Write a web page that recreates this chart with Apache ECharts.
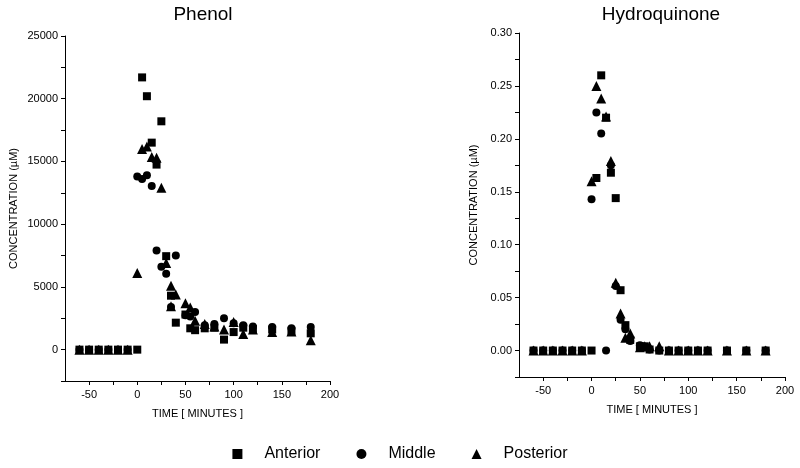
<!DOCTYPE html>
<html><head><meta charset="utf-8">
<script src="https://cdn.jsdelivr.net/npm/echarts@6/dist/echarts.min.js"></script>
<style>html,body{margin:0;padding:0;background:#fff}#c{width:800px;height:468px}</style>
</head><body><div id="c"></div>
<script>
// ---- Phenol (concentration, µM) ----
var phenolTime = [-60,-50,-40,-30,-20,-10,0,5,10,15,20,25,30,35,40,50,55,60,70,80,90,100,110,120,140,160,180];
var phenolAnterior = [0,0,0,0,0,0,0,21700,20200,16500,14750,18200,7450,4300,2150,2800,1700,1550,1700,1750,800,1400,1750,1650,1600,1500,1300];
var phenolMiddle = [0,0,0,0,0,0,13800,13600,13900,13050,7900,6600,6050,3400,7500,2750,2650,3000,1950,2050,2500,2100,1950,1850,1800,1700,1800];
var phenolPosterior = [0,0,0,0,0,0,6100,16000,16200,15350,15300,12900,6900,5100,4400,3700,3350,2300,2050,1850,1600,2200,1250,1600,1400,1450,750];
var phenolPosteriorExtra = [[35,3450]];

// ---- Hydroquinone (concentration, µM) ----
var hqTime = [-60,-50,-40,-30,-20,-10,0,5,10,15,20,25,30,35,40,50,55,60,70,80,90,100,110,120,140,160,180];
var hqAnterior = [0,0,0,0,0,0,0,0.163,0.26,0.22,0.168,0.144,0.057,0.024,0.010,0.004,0.004,0.001,0,0,0,0,0,0,0,0,0];
var hqMiddle = [0,0,0,0,0,0,0.143,0.225,0.205,0,0.175,0.061,0.029,0.020,0.009,0.005,0.003,0.001,0,0,0,0,0,0,0,0,0];
var hqPosterior = [0,0,0,0,0,0,0.16,0.25,0.238,0.221,0.179,0.064,0.035,0.012,0.016,0.003,0.004,0.004,0.004,0,0,0,0,0,0,0,0];

var seriesNames = ['Anterior','Middle','Posterior'];
var titles = ['Phenol','Hydroquinone'];
var xName = 'TIME [ MINUTES ]';
var yName = 'CONCENTRATION (\u00b5M)';

function pairs(t, v){ var out=[]; for(var i=0;i<t.length;i++){ if(v[i]!=null) out.push([t[i],v[i]]); } return out; }

var FONT = 'Liberation Sans, Arial, sans-serif';
var symbols = {Anterior:['rect',8], Middle:['circle',8], Posterior:['triangle',10]};

function xAxis(idx){
  return {type:'value', gridIndex:idx, min:-75, max:200, interval:25,
    name:xName, nameLocation:'middle', nameGap:27,
    nameTextStyle:{fontFamily:FONT, fontSize:11, color:'#000'},
    axisLine:{show:true, onZero:false, lineStyle:{color:'#000', width:1}},
    axisTick:{show:true, length:4, lineStyle:{color:'#000'}},
    axisLabel:{fontFamily:FONT, fontSize:11, color:'#000', margin:8, showMinLabel:false,
      formatter:function(v){ return (Math.round(v)%50===0)? String(Math.round(v)) : ''; }},
    splitLine:{show:false}};
}
function yAxisPhenol(){
  return {type:'value', gridIndex:0, min:-2500, max:25000, interval:2500,
    name:yName, nameLocation:'middle', nameGap:46,
    nameTextStyle:{fontFamily:FONT, fontSize:11, color:'#000'},
    axisLine:{show:true, onZero:false, lineStyle:{color:'#000'}},
    axisTick:{show:true, length:4, lineStyle:{color:'#000'}},
    axisLabel:{fontFamily:FONT, fontSize:11, color:'#000', margin:7,
      formatter:function(v){ return (Math.round(v)%5000===0)? String(Math.round(v)) : ''; }},
    splitLine:{show:false}};
}
function yAxisHq(){
  return {type:'value', gridIndex:1, min:-0.025, max:0.30, interval:0.025,
    name:yName, nameLocation:'middle', nameGap:40,
    nameTextStyle:{fontFamily:FONT, fontSize:11, color:'#000'},
    axisLine:{show:true, onZero:false, lineStyle:{color:'#000'}},
    axisTick:{show:true, length:4, lineStyle:{color:'#000'}},
    axisLabel:{fontFamily:FONT, fontSize:11, color:'#000', margin:7,
      formatter:function(v){ var k=Math.round(v/0.025); return (k%2===0 && k>=0)? (k*0.025).toFixed(2) : ''; }},
    splitLine:{show:false}};
}

function sc(name, idx, data){
  return {type:'scatter', name:name, xAxisIndex:idx, yAxisIndex:idx, data:data,
    symbol:symbols[name][0], symbolSize:symbols[name][1],
    itemStyle:{color:'#000', opacity:1}, emphasis:{disabled:true}, animation:false};
}

var chart = echarts.init(document.getElementById('c'), null, {renderer:'canvas'});
chart.setOption({
  backgroundColor:'#fff',
  animation:false,
  title:[
    {text:titles[0], left:198, top:0, textAlign:'center', textStyle:{fontFamily:FONT, fontSize:19, fontWeight:'normal', color:'#000'}},
    {text:titles[1], left:656, top:0, textAlign:'center', textStyle:{fontFamily:FONT, fontSize:19, fontWeight:'normal', color:'#000'}}
  ],
  legend:{bottom:1, left:'center', itemGap:36, itemWidth:10, itemHeight:10,
    data:seriesNames,
    textStyle:{fontFamily:FONT, fontSize:16, color:'#000', padding:[0,0,0,17]}},
  grid:[
    {left:65, top:36, width:265, height:345},
    {left:519, top:33, width:266, height:344}
  ],
  xAxis:[xAxis(0), xAxis(1)],
  yAxis:[yAxisPhenol(), yAxisHq()],
  series:[
    sc('Anterior',0,pairs(phenolTime,phenolAnterior)),
    sc('Middle',0,pairs(phenolTime,phenolMiddle)),
    sc('Posterior',0,pairs(phenolTime,phenolPosterior).concat(phenolPosteriorExtra)),
    sc('Anterior',1,pairs(hqTime,hqAnterior)),
    sc('Middle',1,pairs(hqTime,hqMiddle)),
    sc('Posterior',1,pairs(hqTime,hqPosterior))
  ]
});
</script></body></html>
